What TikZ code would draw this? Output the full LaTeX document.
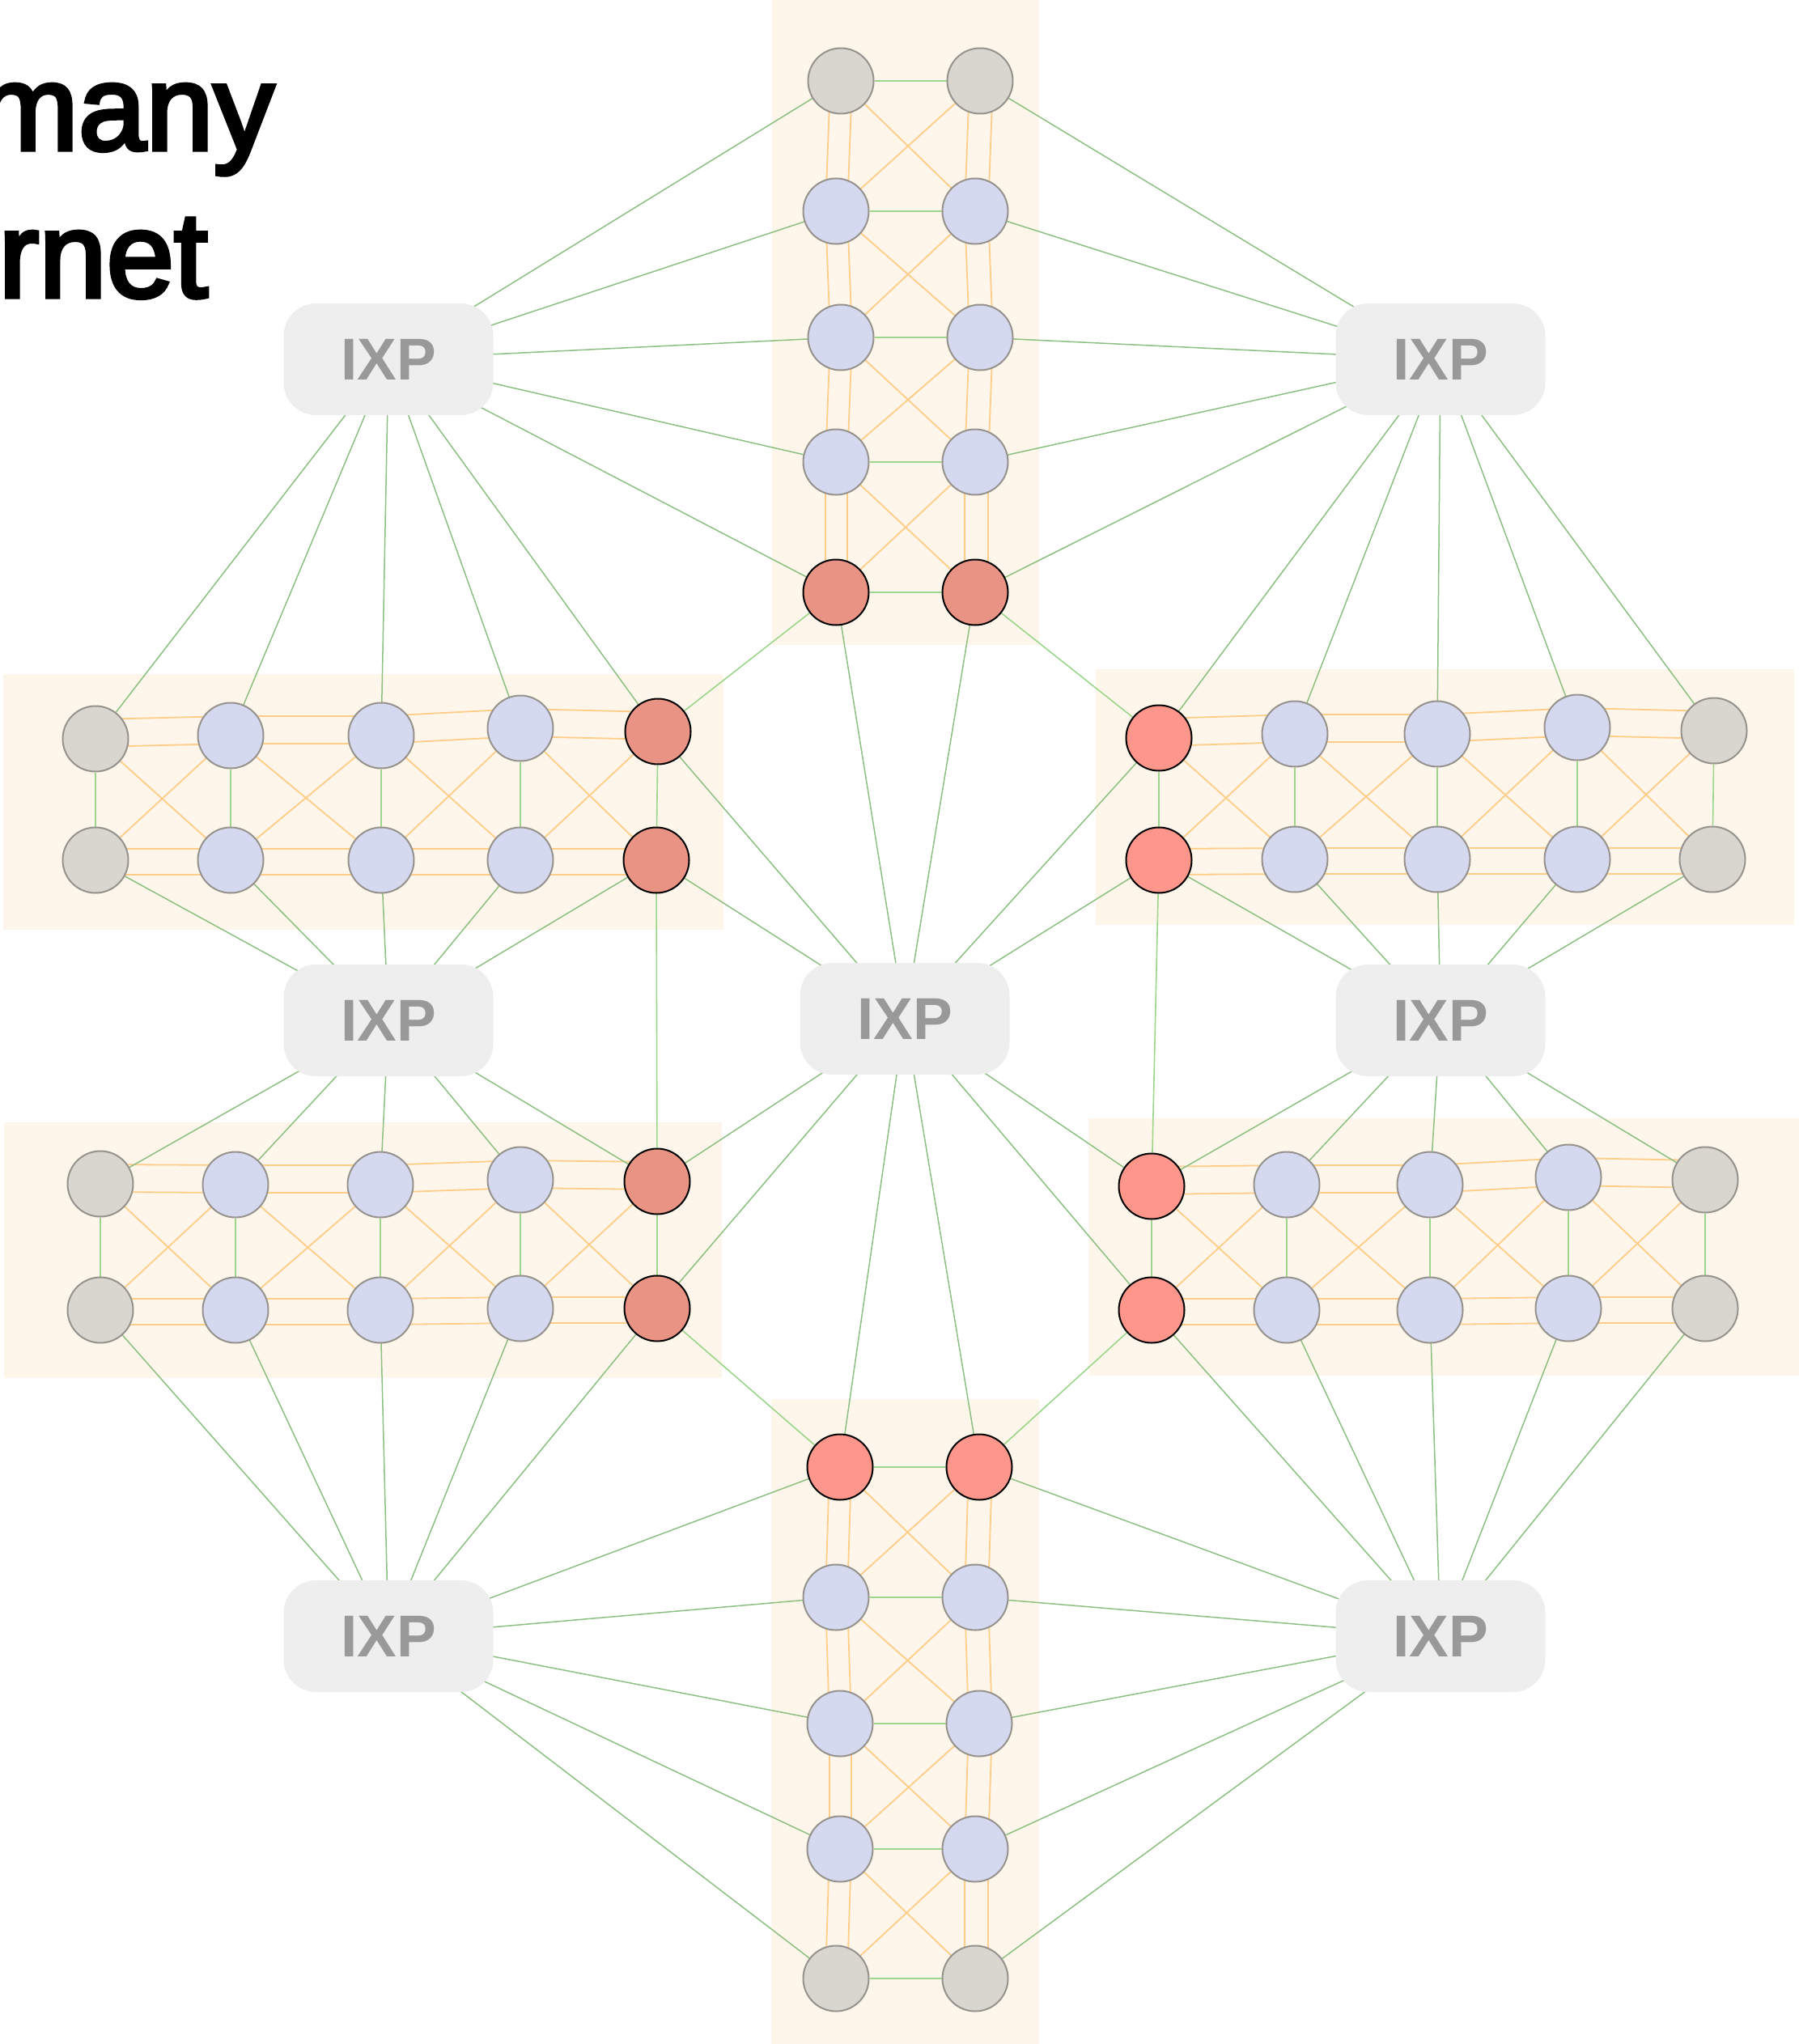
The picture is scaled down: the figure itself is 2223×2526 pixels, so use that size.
\documentclass[tikz,border=0pt]{standalone}
\usepackage{fontspec}
\setmainfont{Liberation Sans}
\newfontfamily\titlefont{Liberation Sans}[FakeBold=3.5]

\definecolor{tintfill}{RGB}{254,246,234}
\definecolor{corefill}{RGB}{213,217,239}
\definecolor{peerfill}{RGB}{217,214,207}
\definecolor{ringgrey}{RGB}{150,146,142}
\definecolor{gwdarkfill}{RGB}{233,147,133}
\definecolor{gwlightfill}{RGB}{255,150,140}
\definecolor{uplinkgreen}{RGB}{140,192,130}
\definecolor{peergreen}{RGB}{155,214,140}
\definecolor{meshorange}{RGB}{255,205,135}
\definecolor{ixpfill}{RGB}{238,238,238}
\definecolor{ixptext}{RGB}{153,153,153}

\pgfdeclarelayer{tint}
\pgfdeclarelayer{links}
\pgfsetlayers{tint,links,main}

\begin{document}
\begin{tikzpicture}[x=1pt,y=-1pt,
  router/.style={circle,minimum size=81pt,inner sep=0pt,line width=2pt,draw=ringgrey},
  core/.style={router,fill=corefill},
  peer/.style={router,fill=peerfill},
  gwdark/.style={router,fill=gwdarkfill,draw=black},
  gwlight/.style={router,fill=gwlightfill,draw=black},
  ixp/.style={rectangle,rounded corners=40pt,fill=ixpfill,minimum width=259pt,minimum height=138pt,inner sep=0pt,text=ixptext,font=\fontsize{73}{80}\selectfont\bfseries},
  uplink/.style={draw=uplinkgreen,line width=1.5pt},
  peerlink/.style={draw=peergreen,line width=1.6pt},
  mesh/.style={draw=meshorange,line width=1.8pt},
  headline/.style={anchor=base east,inner sep=0pt,font=\titlefont\fontsize{150}{182}\selectfont}
]
\useasboundingbox (0,0) rectangle (2223,2526);
\clip (0,0) rectangle (2223,2526);

% tinted blocks behind each network
\begin{pgfonlayer}{tint}
  \fill[tintfill] (954,0) rectangle (1284,797);
  \fill[tintfill] (953,1729) rectangle (1284,2526);
  \fill[tintfill] (4,833) rectangle (894,1149);
  \fill[tintfill] (5,1387) rectangle (892,1703);
  \fill[tintfill] (1354,827) rectangle (2217,1143);
  \fill[tintfill] (1345,1382) rectangle (2223,1700);
\end{pgfonlayer}

% headline
\node[headline] (line1) at (339,185) {many};
\node[headline] (line2) at (257,367) {rnet};

% top network (two columns)
\node[peer] (Tl1) at (1039,100) {};
\node[peer] (Tr1) at (1211,100) {};
\node[core] (Tl2) at (1033,261) {};
\node[core] (Tr2) at (1205,261) {};
\node[core] (Tl3) at (1039,417) {};
\node[core] (Tr3) at (1211,417) {};
\node[core] (Tl4) at (1033,571) {};
\node[core] (Tr4) at (1205,571) {};
\node[gwdark] (Tl5) at (1033,732) {};
\node[gwdark] (Tr5) at (1205,732) {};

% bottom network (two columns)
\node[gwlight] (Bl1) at (1038,1813) {};
\node[gwlight] (Br1) at (1210,1813) {};
\node[core] (Bl2) at (1033,1974) {};
\node[core] (Br2) at (1205,1974) {};
\node[core] (Bl3) at (1038,2130) {};
\node[core] (Br3) at (1210,2130) {};
\node[core] (Bl4) at (1038,2285) {};
\node[core] (Br4) at (1205,2285) {};
\node[peer] (Bl5) at (1033,2445) {};
\node[peer] (Br5) at (1205,2445) {};

% upper left network (two rows)
\node[peer] (LUa1) at (118,913) {};
\node[core] (LUa2) at (285,909) {};
\node[core] (LUa3) at (471,909) {};
\node[core] (LUa4) at (643,900) {};
\node[gwdark] (LUa5) at (813,904) {};
\node[peer] (LUb1) at (118,1063) {};
\node[core] (LUb2) at (285,1063) {};
\node[core] (LUb3) at (471,1063) {};
\node[core] (LUb4) at (643,1063) {};
\node[gwdark] (LUb5) at (811,1063) {};

% lower left network
\node[peer] (LLa1) at (124,1463) {};
\node[core] (LLa2) at (291,1464) {};
\node[core] (LLa3) at (470,1464) {};
\node[core] (LLa4) at (643,1458) {};
\node[gwdark] (LLa5) at (812,1460) {};
\node[peer] (LLb1) at (124,1619) {};
\node[core] (LLb2) at (291,1619) {};
\node[core] (LLb3) at (470,1619) {};
\node[core] (LLb4) at (643,1617) {};
\node[gwdark] (LLb5) at (812,1617) {};

% upper right network
\node[gwlight] (RUa1) at (1432,912) {};
\node[core] (RUa2) at (1600,907) {};
\node[core] (RUa3) at (1776,907) {};
\node[core] (RUa4) at (1949,899) {};
\node[peer] (RUa5) at (2118,903) {};
\node[gwlight] (RUb1) at (1432,1063) {};
\node[core] (RUb2) at (1600,1062) {};
\node[core] (RUb3) at (1776,1062) {};
\node[core] (RUb4) at (1949,1062) {};
\node[peer] (RUb5) at (2116,1062) {};

% lower right network
\node[gwlight] (RLa1) at (1423,1466) {};
\node[core] (RLa2) at (1590,1464) {};
\node[core] (RLa3) at (1767,1464) {};
\node[core] (RLa4) at (1938,1455) {};
\node[peer] (RLa5) at (2107,1458) {};
\node[gwlight] (RLb1) at (1423,1619) {};
\node[core] (RLb2) at (1590,1619) {};
\node[core] (RLb3) at (1767,1619) {};
\node[core] (RLb4) at (1938,1617) {};
\node[peer] (RLb5) at (2107,1617) {};

% exchange points
\node[ixp] (ixTL) at (480,444) {IXP};
\node[ixp] (ixTR) at (1780,444) {IXP};
\node[ixp] (ixML) at (480,1261) {IXP};
\node[ixp] (ixMC) at (1118,1259) {IXP};
\node[ixp] (ixMR) at (1780,1261) {IXP};
\node[ixp] (ixBL) at (480,2022) {IXP};
\node[ixp] (ixBR) at (1780,2022) {IXP};

\begin{pgfonlayer}{links}
  % internal mesh of the two-column networks
  \foreach \g in {T,B}{
    \foreach \j/\k in {1/2,2/3,3/4,4/5}{
      \draw[mesh] ([xshift=-13pt]\g l\j.center) -- ([xshift=-13pt]\g l\k.center);
      \draw[mesh] ([xshift=14pt]\g l\j.center) -- ([xshift=14pt]\g l\k.center);
      \draw[mesh] ([xshift=-13pt]\g r\j.center) -- ([xshift=-13pt]\g r\k.center);
      \draw[mesh] ([xshift=16pt]\g r\j.center) -- ([xshift=16pt]\g r\k.center);
      \draw[mesh] (\g l\j.center) -- (\g r\k.center);
      \draw[mesh] (\g r\j.center) -- (\g l\k.center);
    }
    \foreach \j in {1,...,5} \draw[peerlink] (\g l\j) -- (\g r\j);
  }
  % internal mesh of the two-row networks
  \foreach \g in {LU,LL,RU,RL}{
    \foreach \j/\k in {1/2,2/3,3/4,4/5}{
      \draw[mesh] ([yshift=24pt]\g a\j.center) -- ([yshift=24pt]\g a\k.center);
      \draw[mesh] ([yshift=-10pt]\g a\j.center) -- ([yshift=-10pt]\g a\k.center);
      \draw[mesh] ([yshift=14pt]\g b\j.center) -- ([yshift=14pt]\g b\k.center);
      \draw[mesh] ([yshift=-18pt]\g b\j.center) -- ([yshift=-18pt]\g b\k.center);
      \draw[mesh] (\g a\j.center) -- (\g b\k.center);
      \draw[mesh] (\g b\j.center) -- (\g a\k.center);
    }
    \foreach \j in {1,...,5} \draw[peerlink] (\g a\j) -- (\g b\j);
  }
  % links between border routers of neighbouring networks
  \draw[peerlink] (Tl5) -- (LUa5);
  \draw[peerlink] (Tr5) -- (RUa1);
  \draw[peerlink] (LUb5) -- (LLa5);
  \draw[peerlink] (RUb1) -- (RLa1);
  \draw[peerlink] (LLb5) -- (Bl1);
  \draw[peerlink] (RLb1) -- (Br1);
  % exchange point connections
  \foreach \j in {1,...,5}{
    \draw[uplink] (ixTL.center) -- (Tl\j.center);
    \draw[uplink] (ixTL.center) -- (LUa\j.center);
    \draw[uplink] (ixTR.center) -- (Tr\j.center);
    \draw[uplink] (ixTR.center) -- (RUa\j.center);
    \draw[uplink] (ixML.center) -- (LUb\j.center);
    \draw[uplink] (ixML.center) -- (LLa\j.center);
    \draw[uplink] (ixMR.center) -- (RUb\j.center);
    \draw[uplink] (ixMR.center) -- (RLa\j.center);
    \draw[uplink] (ixBL.center) -- (LLb\j.center);
    \draw[uplink] (ixBL.center) -- (Bl\j.center);
    \draw[uplink] (ixBR.center) -- (RLb\j.center);
    \draw[uplink] (ixBR.center) -- (Br\j.center);
  }
  \foreach \n in {Tl5,Tr5,LUa5,LUb5,RUa1,RUb1,LLa5,LLb5,RLa1,RLb1,Bl1,Br1}
    \draw[uplink] (ixMC.center) -- (\n.center);
\end{pgfonlayer}
\end{tikzpicture}
\end{document}
